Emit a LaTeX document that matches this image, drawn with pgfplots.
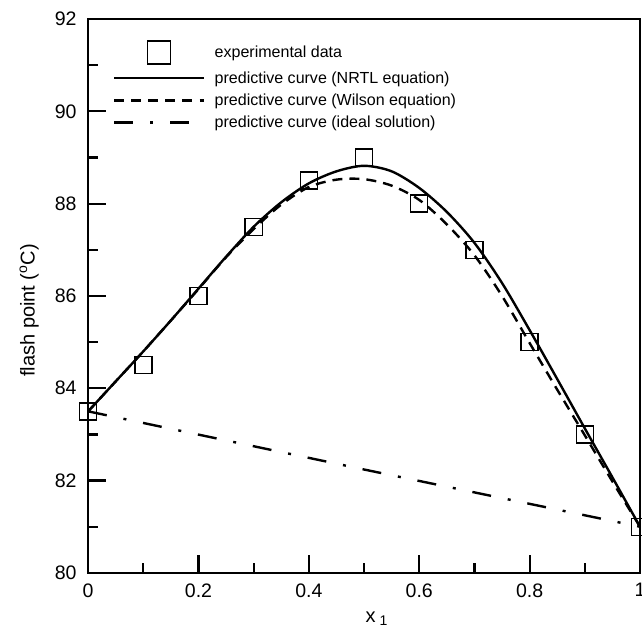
\documentclass[border=0pt]{standalone}
\usepackage{pgfplots}
\pgfplotsset{compat=1.18}
\usepackage{fontspec}
\setmainfont{Liberation Sans}
\pgfplotsset{
  linelegend/.style={legend image code/.code={\draw[##1] (0pt,0pt) -- (89pt,0pt);}},
  squarelegend/.style={legend image code/.code={\draw[line width=1.4pt] (33pt,-11.5pt) rectangle (56pt,11.5pt);}},
}
\begin{document}
\begin{tikzpicture}
\begin{axis}[
  scale only axis, width=551pt, height=553pt,
  xmin=0, xmax=1, ymin=80, ymax=92,
  axis line style={line width=2.2pt},
  tick align=inside, xtick pos=bottom, ytick pos=left,
  xtick={0,0.2,0.4,0.6,0.8,1}, xticklabels={0,0.2,0.4,0.6,0.8,1},
  ytick={80,82,84,86,88,90,92},
  minor xtick={0.1,0.3,0.5,0.7,0.9}, minor ytick={81,83,85,87,89,91},
  major tick length=18pt, minor tick length=10pt,
  major tick style={line width=2.2pt, black},
  minor tick style={line width=2.2pt, black},
  ticklabel style={font=\fontsize{19.5}{22}\selectfont},
  xticklabel style={yshift=-7pt},
  yticklabel style={xshift=-8pt},
  /pgf/number format/assume math mode=true,
  xlabel={x\hspace{4pt}\textsubscript{1}}, ylabel={flash point (\textsuperscript{o}C)},
  label style={font=\fontsize{20}{22}\selectfont},
  xlabel style={at={(axis description cs:0.523,-0.09)}, anchor=base},
  ylabel style={at={(axis description cs:-0.107,0.474)}, anchor=center},
  legend cell align=left,
  legend style={draw=none, fill=none, font=\fontsize{16}{18}\selectfont,
    at={(axis description cs:0.045,0.962)}, anchor=north west, inner sep=0pt,
    row sep=5pt, /tikz/every odd column/.append style={column sep=8pt}},
]
\addplot[only marks, mark=square, mark size=8.5pt, mark options={line width=1.4pt, black}, squarelegend]
  coordinates {(0,83.5) (0.1,84.5) (0.2,86) (0.3,87.5) (0.4,88.5) (0.5,89) (0.6,88) (0.7,87) (0.8,85) (0.9,83) (1,81)};
\addlegendentry{experimental data}
\addplot[black, line width=2.4pt, smooth, linelegend]
  coordinates {(0,83.5) (0.05,84.15) (0.1,84.8) (0.15,85.47) (0.2,86.16) (0.25,86.85) (0.3,87.5) (0.35,88.03) (0.4,88.44) (0.45,88.70) (0.5,88.82) (0.55,88.70) (0.6,88.34) (0.65,87.82) (0.7,87.15) (0.75,86.28) (0.8,85.26) (0.85,84.2) (0.9,83.13) (0.95,82.07) (1,81.0)};
\addlegendentry{predictive curve (NRTL equation)}
\addplot[black, line width=2.4pt, smooth, dash pattern=on 10pt off 7pt, linelegend]
  coordinates {(0,83.5) (0.05,84.15) (0.1,84.8) (0.15,85.47) (0.2,86.15) (0.25,86.84) (0.3,87.45) (0.35,87.98) (0.4,88.36) (0.45,88.52) (0.5,88.53) (0.55,88.39) (0.6,88.08) (0.65,87.55) (0.7,86.88) (0.75,86.0) (0.8,84.98) (0.85,83.97) (0.9,82.98) (0.95,81.98) (1,81.0)};
\addlegendentry{predictive curve (Wilson equation)}
\addplot[black, line width=2.4pt, dash pattern=on 19pt off 17pt on 3pt off 17pt, linelegend]
  coordinates {(0,83.5) (0.25,82.87) (0.5,82.24) (0.75,81.62) (1,81.0)};
\addlegendentry{predictive curve (ideal solution)}
\end{axis}
\pgfresetboundingbox
\path[use as bounding box] ([xshift=-88pt,yshift=-56pt]current axis.south west) rectangle ([xshift=2pt,yshift=19pt]current axis.north east);
\end{tikzpicture}
\end{document}
